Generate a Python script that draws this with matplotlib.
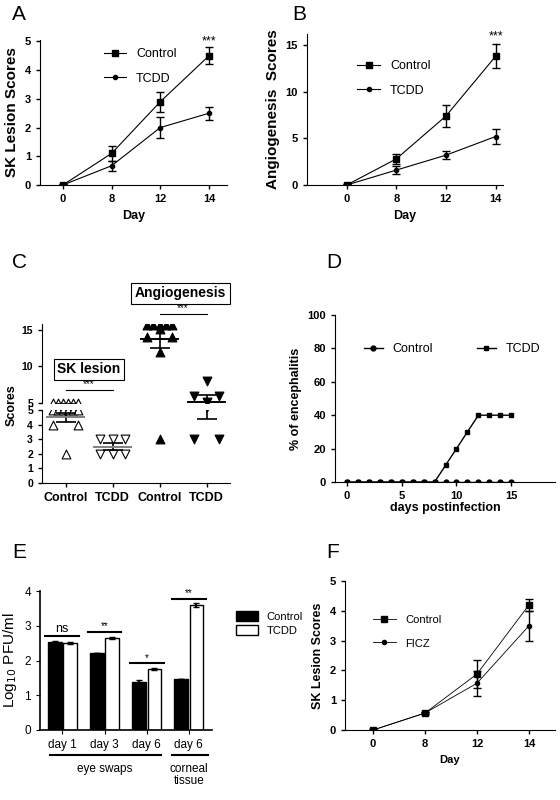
import numpy as np
import matplotlib.pyplot as plt
from matplotlib.transforms import blended_transform_factory

plt.rcParams['font.family'] = ['Liberation Sans', 'DejaVu Sans']
plt.rcParams['font.size'] = 8

W, H = 560, 800

days = ["0", "8", "12", "14"]
# A
a_ctrl = [0, 1.1, 2.9, 4.5]
a_ctrl_err = [0.05, 0.25, 0.35, 0.3]
a_tcdd = [0, 0.67, 2.0, 2.5]
a_tcdd_err = [0.05, 0.18, 0.37, 0.23]
# B
b_ctrl = [0, 2.8, 7.4, 13.8]
b_ctrl_err = [0.1, 0.5, 1.2, 1.3]
b_tcdd = [0, 1.6, 3.2, 5.2]
b_tcdd_err = [0.1, 0.45, 0.4, 0.8]
# C
c_sk_ctrl = [5, 5, 5, 5, 5, 5, 4, 4, 2]
c_sk_tcdd = [3, 3, 3, 2, 2, 2]
c_an_ctrl = [15.7, 15.7, 15.7, 15.7, 15.7, 15.1, 14, 14, 12, 3]
c_an_tcdd = [8, 6, 6, 5.2, 3, 3]
c_means = [4.5, 2.5, 13.8, 5.2]
c_sems = [0.3, 0.25, 1.3, 0.85]
# D
d_days = list(range(0, 16))
d_ctrl = [0] * 16
d_tcdd = [0, 0, 0, 0, 0, 0, 0, 0, 0, 10, 20, 30, 40, 40, 40, 40]
# E
e_groups = ["day 1", "day 3", "day 6", "day 6"]
e_ctrl = [2.53, 2.22, 1.38, 1.47]
e_ctrl_err = [0.02, 0.01, 0.05, 0.01]
e_tcdd = [2.5, 2.65, 1.75, 3.6]
e_tcdd_err = [0.02, 0.02, 0.02, 0.05]
e_sig = ["ns", "**", "*", "**"]
# F
f_ctrl = [0, 0.57, 1.88, 4.2]
f_ctrl_err = [0.03, 0.03, 0.47, 0.2]
f_ficz = [0, 0.57, 1.57, 3.5]
f_ficz_err = [0.03, 0.03, 0.42, 0.5]

fig = plt.figure(figsize=(W / 100, H / 100), dpi=100)


def add_ax(l, t, r, b):
    return fig.add_axes([l / W, 1 - b / H, (r - l) / W, (b - t) / H])


def style(ax):
    for s in ["top", "right"]:
        ax.spines[s].set_visible(False)
    ax.tick_params(length=3, width=1)
    for lab in ax.get_xticklabels() + ax.get_yticklabels():
        lab.set_fontweight("bold")


def panel(letter, x, y):
    fig.text(x / W, 1 - y / H, letter, fontsize=15, ha="left", va="center")


def line_panel(ax, ctrl, cerr, other, oerr, label2, ymax, yticks, ylabel, leg_loc, star=None, lw=0.8):
    x = np.arange(len(days))
    ax.plot(x, ctrl, color="black", marker="s", ms=5, lw=lw, label="Control")
    ax.plot(x, other, color="black", marker="o", ms=3, lw=lw, label=label2)
    ax.errorbar(x, ctrl, yerr=cerr, fmt="none", ecolor="black", capsize=3, elinewidth=1)
    ax.errorbar(x, other, yerr=oerr, fmt="none", ecolor="black", capsize=3, elinewidth=1)
    ax.set_xticks(x, days)
    ax.set_yticks(yticks)
    ax.set_ylim(0, ymax)
    ax.set_ylabel(ylabel, fontweight="bold", fontsize=11)
    ax.set_xlabel("Day", fontweight="bold", fontsize=9)
    ax.legend(frameon=False, loc="upper left", bbox_to_anchor=leg_loc, fontsize=9, handlelength=1.8, labelspacing=1.0)
    if star is not None:
        ax.text(3, star, "***", ha="center", va="bottom", fontsize=9)
    style(ax)


# A
axA = add_ax(40, 40, 227, 185)
line_panel(axA, a_ctrl, a_ctrl_err, a_tcdd, a_tcdd_err, "TCDD", 5.05, range(0, 6), "SK Lesion Scores", (0.28, 1.02), star=4.8)
axA.set_xlim(-0.47, 3.37)
panel("A", 12, 14)

# B
axB = add_ax(307, 34, 503, 185)
line_panel(axB, b_ctrl, b_ctrl_err, b_tcdd, b_tcdd_err, "TCDD", 16.2, [0, 5, 10, 15], "Angiogenesis  Scores", (0.2, 0.9), star=15.3)
axB.set_xlim(-0.8, 3.15)
panel("B", 292, 14)

# C - broken axis
axC_lo = add_ax(42, 410, 230, 483)
axC_hi = add_ax(42, 324, 230, 403)
xc = [0, 1, 2, 3]


def jitter(vals, width=0.55):
    offs = []
    seen = {}
    for v in vals:
        n = vals.count(v)
        k = seen.get(v, 0)
        seen[v] = k + 1
        offs.append(width * (k - (n - 1) / 2) / (n - 1) if n > 1 else 0.0)
    return offs


sets = [c_sk_ctrl, c_sk_tcdd, c_an_ctrl, c_an_tcdd]
markers = ["^", "v", "^", "v"]
fills = ["white", "white", "black", "black"]
for ax in (axC_lo, axC_hi):
    for i, vals in enumerate(sets):
        jx = np.array(jitter(vals)) + xc[i]
        ax.scatter(jx, vals, marker=markers[i], s=40, facecolors=fills[i], edgecolors="black", linewidths=0.8, zorder=3)
        ax.errorbar(xc[i], c_means[i], yerr=c_sems[i], color="black", capsize=7, lw=0, elinewidth=1.2, capthick=1.2, zorder=4)
        ax.plot([xc[i] - 0.4, xc[i] + 0.4], [c_means[i]] * 2, color="gray" if i < 2 else "black", lw=1.4, zorder=4)
    ax.set_xlim(-0.5, 3.5)
axC_lo.set_ylim(0, 5)
axC_lo.set_yticks(range(0, 6))
axC_hi.set_ylim(5, 15.8)
axC_hi.set_yticks([5, 10, 15])
axC_hi.spines["bottom"].set_visible(False)
axC_hi.set_xticks([])
axC_lo.set_xticks(xc, ["Control", "TCDD", "Control", "TCDD"])
style(axC_lo)
style(axC_hi)
for lab in axC_lo.get_xticklabels():
    lab.set_fontsize(9)
for ax in (axC_lo, axC_hi):
    for lab in ax.get_yticklabels():
        lab.set_fontsize(7.5)
fig.text(12 / W, 1 - 405 / H, "Scores", rotation=90, fontweight="bold", fontsize=9, ha="center", va="center")
axC_hi.plot([0, 1], [6.8, 6.8], color="black", lw=0.8)
axC_hi.text(0.5, 6.9, "***", ha="center", va="bottom", fontsize=7)
axC_hi.text(0.5, 9.6, "SK lesion", ha="center", va="center", fontsize=10, fontweight="bold",
            bbox=dict(boxstyle="square,pad=0.25", fc="white", ec="black", lw=0.8))
axC_hi.plot([2, 3], [17.2, 17.2], color="black", lw=0.8, clip_on=False)
axC_hi.text(2.5, 17.3, "***", ha="center", va="bottom", fontsize=7)
axC_hi.text(2.45, 20.0, "Angiogenesis", ha="center", va="center", fontsize=10, fontweight="bold",
            bbox=dict(boxstyle="square,pad=0.25", fc="white", ec="black", lw=0.8), clip_on=False)
panel("C", 12, 263)

# D
axD = add_ax(335, 315, 555, 482)
axD.plot(d_days, d_ctrl, color="black", marker="o", ms=3.5, lw=1, label="Control", zorder=3)
axD.plot(d_days, d_tcdd, color="black", marker="s", ms=3.5, lw=1, label="TCDD")
axD.set_xlim(-1.1, 19)
axD.set_ylim(0, 100)
axD.set_xticks([0, 5, 10, 15])
axD.set_yticks(range(0, 101, 20))
axD.set_xlabel("days postinfection", fontweight="bold", fontsize=9, labelpad=1)
axD.set_ylabel("% of encephalitis", fontweight="bold", fontsize=9)
axD.legend(frameon=False, loc="upper left", bbox_to_anchor=(0.08, 0.9), ncol=2, fontsize=9,
           handlelength=1.5, columnspacing=3.5)
style(axD)
panel("D", 326, 263)

# E
axE = add_ax(40, 591, 212, 730)
xe = np.arange(4)
bw = 0.32
axE.bar(xe - bw / 2 - 0.02, e_ctrl, bw, yerr=e_ctrl_err, color="black", edgecolor="black", capsize=2, label="Control")
axE.bar(xe + bw / 2 + 0.02, e_tcdd, bw, yerr=e_tcdd_err, color="white", edgecolor="black", lw=1, capsize=2, label="TCDD")
for i in range(4):
    top = max(e_ctrl[i], e_tcdd[i]) + 0.17
    axE.plot([i - 0.4, i + 0.4], [top, top], color="black", lw=1.5)
    axE.text(i, top + 0.02, e_sig[i], ha="center", va="bottom", fontsize=9 if e_sig[i] == "ns" else 7)
axE.set_xlim(-0.53, 3.55)
axE.set_ylim(0, 4)
axE.set_yticks(range(0, 5))
axE.set_xticks(xe, e_groups)
axE.set_ylabel("Log$_{10}$ PFU/ml", fontsize=11)
axE.spines["bottom"].set_linewidth(1.2)
axE.spines["left"].set_linewidth(1.2)
for s in ["top", "right"]:
    axE.spines[s].set_visible(False)
axE.tick_params(length=3, labelsize=8.5)
tr = blended_transform_factory(axE.transData, axE.transAxes)
axE.plot([-0.3, 2.35], [-0.18, -0.18], color="black", lw=1.5, transform=tr, clip_on=False)
axE.text(1.0, -0.24, "eye swaps", ha="center", va="top", fontsize=8.5, transform=tr)
axE.plot([2.6, 3.45], [-0.18, -0.18], color="black", lw=1.5, transform=tr, clip_on=False)
axE.text(3.0, -0.24, "corneal\ntissue", ha="center", va="top", fontsize=8.5, transform=tr, linespacing=1.0)
axE.legend(frameon=False, loc="upper left", bbox_to_anchor=(1.08, 0.93), fontsize=8,
           handlelength=2.0, handleheight=1.0, labelspacing=0.3)
panel("E", 12, 553)

# F
axF = add_ax(345, 581, 555, 730)
line_panel(axF, f_ctrl, f_ctrl_err, f_ficz, f_ficz_err, "FICZ", 5.0, range(0, 6), "SK Lesion Scores", (0.08, 0.85), lw=0.6)
axF.set_xlim(-0.54, 3.5)
axF.yaxis.label.set_fontsize(9)
axF.xaxis.label.set_fontsize(8)
for t in axF.get_legend().get_texts():
    t.set_fontsize(8)
panel("F", 326, 553)

fig.savefig("out.png", dpi=100)
